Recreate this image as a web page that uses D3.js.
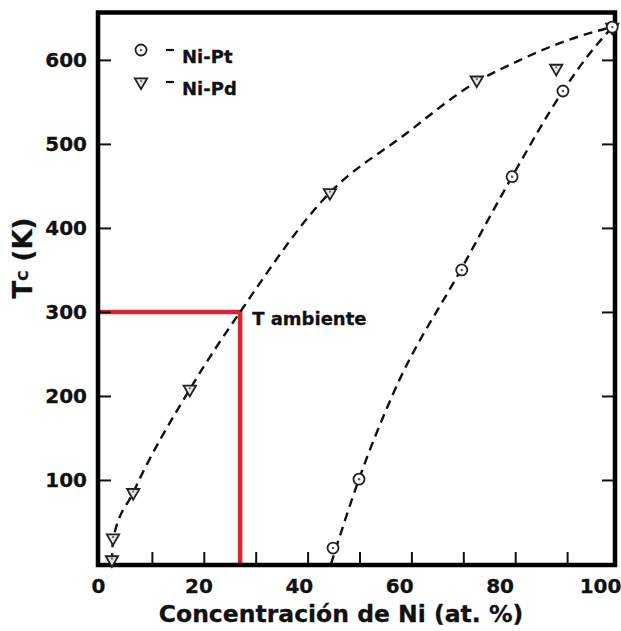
<!DOCTYPE html>
<html>
<head>
<meta charset="utf-8">
<script src="https://cdn.jsdelivr.net/npm/d3@7"></script>
<style>
  body { margin: 0; background: #fff; }
  text { font-family: "DejaVu Sans", Verdana, sans-serif; font-weight: bold; fill: #111; stroke: #111; stroke-width: 0.3; }
</style>
</head>
<body>
<script>
  // DATA
  // measured points, at.% Ni vs Tc (K)
  const niPdPoints = [
    {x: 2.3, y: 5}, {x: 2.5, y: 31}, {x: 6.4, y: 85}, {x: 17.3, y: 208},
    {x: 44.3, y: 442}, {x: 72.6, y: 576}, {x: 87.9, y: 590}, {x: 98.7, y: 639}
  ];
  const niPtPoints = [
    {x: 44.9, y: 19}, {x: 49.9, y: 101}, {x: 69.7, y: 350},
    {x: 79.4, y: 461}, {x: 89.2, y: 563}, {x: 98.7, y: 639}
  ];
  // dashed guide curves
  const niPdFit = [
    {x: 2.3, y: 2}, {x: 2.5, y: 29}, {x: 6.4, y: 85}, {x: 17.3, y: 208},
    {x: 27.0, y: 300}, {x: 44.3, y: 442}, {x: 58.5, y: 510}, {x: 72.6, y: 574},
    {x: 80.3, y: 598}, {x: 88.6, y: 620}, {x: 95.0, y: 633}, {x: 98.7, y: 639}
  ];
  const niPtFit = [
    {x: 44.5, y: 0}, {x: 49.9, y: 101}, {x: 56.5, y: 203}, {x: 69.7, y: 352},
    {x: 79.4, y: 461}, {x: 89.2, y: 563}, {x: 94.4, y: 608}, {x: 98.7, y: 639}
  ];
  const roomTemp = {x: 27.0, y: 300};
  const xTickLabels = [0, 20, 40, 60, 80, 100];
  const xMinorTicks = [10, 20, 30, 40, 50, 60, 70, 80, 90];
  const yTickLabels = [100, 200, 300, 400, 500, 600];
  const legendItems = ["Ni-Pt", "Ni-Pd"];

  // D3
  var svg = d3.select("body")
      .append("svg")
      .attr("width", 621)
      .attr("height", 631);

  const frame = {left: 98, right: 615, top: 12.5, bottom: 565};

  // scales (tick marks and labels sit on slightly different spacings in the original)
  const xScale = d3.scaleLinear().domain([0, 100]).range([100, 619]);
  const xLabelScale = d3.scaleLinear().domain([0, 100]).range([98, 600]);
  const yScale = d3.scaleLinear().domain([0, 657]).range([564, 12]);

  // red room temperature guide
  svg.append("path")
      .attr("d", "M" + frame.left + "," + yScale(roomTemp.y) +
                 "H" + xScale(roomTemp.x) + "V" + frame.bottom)
      .attr("fill", "none")
      .attr("stroke", "#d8262f")
      .attr("stroke-width", 4.5);

  svg.append("text")
      .attr("x", xScale(roomTemp.x) + 12)
      .attr("y", yScale(roomTemp.y) + 13)
      .attr("font-size", 18)
      .text("T ambiente");

  // dashed curves
  const line = d3.line()
      .x(d => xScale(d.x))
      .y(d => yScale(d.y))
      .curve(d3.curveMonotoneX);

  [niPdFit, niPtFit].forEach(function(fit) {
    svg.append("path")
        .attr("d", line(fit))
        .attr("fill", "none")
        .attr("stroke", "#111")
        .attr("stroke-width", 2.4)
        .attr("stroke-dasharray", "9,6");
  });

  // axes
  svg.append("g")
      .attr("transform", "translate(" + frame.left + ",0)")
      .call(d3.axisLeft(yScale).tickValues(yTickLabels).tickSize(-13).tickPadding(11))
      .call(g => g.select(".domain").remove())
      .call(g => g.selectAll("line").attr("stroke", "#111").attr("stroke-width", 2))
      .call(g => g.selectAll("text").attr("font-size", 20).attr("font-family", null).attr("fill", null));

  svg.append("g")
      .attr("transform", "translate(" + frame.right + ",0)")
      .call(d3.axisRight(yScale).tickValues(yTickLabels).tickSize(-13).tickFormat(""))
      .call(g => g.select(".domain").remove())
      .call(g => g.selectAll("line").attr("stroke", "#111").attr("stroke-width", 2));

  svg.append("g")
      .attr("transform", "translate(0," + frame.bottom + ")")
      .call(d3.axisBottom(xScale).tickValues(xMinorTicks).tickSize(-13).tickFormat(""))
      .call(g => g.select(".domain").remove())
      .call(g => g.selectAll("line").attr("stroke", "#111").attr("stroke-width", 2));

  svg.append("g")
      .attr("transform", "translate(0," + frame.bottom + ")")
      .call(d3.axisBottom(xLabelScale).tickValues(xTickLabels).tickSize(0).tickPadding(14))
      .call(g => g.select(".domain").remove())
      .call(g => g.selectAll("text").attr("font-size", 20).attr("font-family", null).attr("fill", null));

  svg.append("rect")
      .attr("x", frame.left)
      .attr("y", frame.top)
      .attr("width", frame.right - frame.left)
      .attr("height", frame.bottom - frame.top)
      .attr("fill", "none")
      .attr("stroke", "#000")
      .attr("stroke-width", 4.5);

  // markers
  const tri = d3.symbol().type(d3.symbolTriangle).size(66);

  function drawCircle(g, cx, cy) {
    g.append("circle").attr("cx", cx).attr("cy", cy).attr("r", 5.5)
        .attr("fill", "#fff").attr("stroke", "#222").attr("stroke-width", 1.8);
    g.append("circle").attr("cx", cx).attr("cy", cy).attr("r", 1.2).attr("fill", "#555");
  }
  function drawTriangle(g, cx, cy) {
    g.append("path").attr("d", tri())
        .attr("transform", "translate(" + cx + "," + cy + ") rotate(180)")
        .attr("fill", "#e6e6e6").attr("stroke", "#222").attr("stroke-width", 1.8);
    g.append("circle").attr("cx", cx).attr("cy", cy - 1).attr("r", 1.1).attr("fill", "#666");
  }

  const marks = svg.append("g");
  niPdPoints.forEach(d => drawTriangle(marks, xScale(d.x), yScale(d.y)));
  niPtPoints.forEach(d => drawCircle(marks, xScale(d.x), yScale(d.y)));

  // legend
  const legend = svg.append("g");
  legendItems.forEach(function(name, i) {
    const cy = 50 + i * 32;
    if (i === 0) drawCircle(legend, 141, cy);
    else drawTriangle(legend, 141, cy);
    legend.append("line")
        .attr("x1", 166).attr("x2", 174)
        .attr("y1", cy).attr("y2", cy)
        .attr("stroke", "#111").attr("stroke-width", 2.2);
    legend.append("text")
        .attr("x", 182)
        .attr("y", cy + 13)
        .attr("font-size", 18)
        .text(name);
  });

  // axis titles
  svg.append("text")
      .attr("x", 341)
      .attr("y", 622)
      .attr("text-anchor", "middle")
      .attr("font-size", 23.5)
      .text("Concentración de Ni (at. %)");

  const yTitle = svg.append("text")
      .attr("transform", "translate(32,258) rotate(-90)")
      .attr("text-anchor", "middle")
      .attr("font-size", 26);
  yTitle.append("tspan").text("T");
  yTitle.append("tspan").attr("font-size", 14).attr("dy", -4).text("C");
  yTitle.append("tspan").attr("dy", 4).text(" (K)");
</script>
</body>
</html>
